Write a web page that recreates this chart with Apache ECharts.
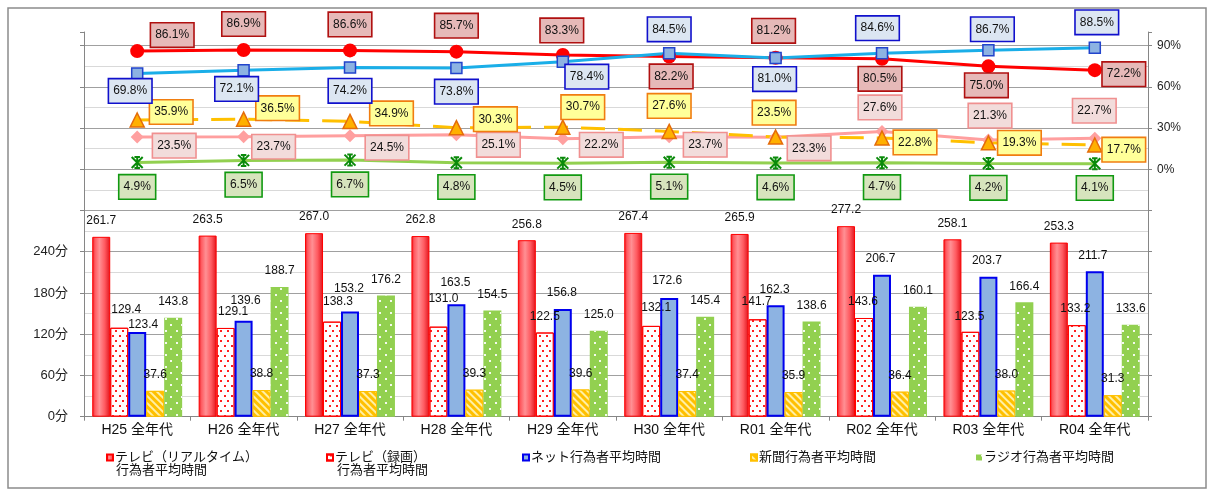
<!DOCTYPE html>
<html><head><meta charset="utf-8">
<script src="https://cdn.jsdelivr.net/npm/echarts@6/dist/echarts.min.js"></script>
<style>html,body{margin:0;padding:0;background:#fff}#c{width:1217px;height:493px}</style>
</head><body><div id="c"></div>
<script>
// ---------- data ----------
const categories = ['H25 全年代','H26 全年代','H27 全年代','H28 全年代','H29 全年代','H30 全年代','R01 全年代','R02 全年代','R03 全年代','R04 全年代'];
const barNames = ['テレビ（リアルタイム）行為者平均時間','テレビ（録画）行為者平均時間','ネット行為者平均時間','新聞行為者平均時間','ラジオ行為者平均時間'];
const legendLine1 = ['テレビ（リアルタイム）','テレビ（録画）','ネット行為者平均時間','新聞行為者平均時間','ラジオ行為者平均時間'];
const legendLine2 = '行為者平均時間';
const tvRealMin = [261.7,263.5,267.0,262.8,256.8,267.4,265.9,277.2,258.1,253.3];
const tvRecMin  = [129.4,129.1,138.3,131.0,122.5,132.1,141.7,143.6,123.5,133.2];
const netMin    = [123.4,139.6,153.2,163.5,156.8,172.6,162.3,206.7,203.7,211.7];
const paperMin  = [37.6,38.8,37.3,39.3,39.6,37.4,35.9,36.4,38.0,31.3];
const radioMin  = [143.8,188.7,176.2,154.5,125.0,145.4,138.6,160.1,166.4,133.6];
const tvRealPct = [86.1,86.9,86.6,85.7,83.3,82.2,81.2,80.5,75.0,72.2];
const netPct    = [69.8,72.1,74.2,73.8,78.4,84.5,81.0,84.6,86.7,88.5];
const paperPct  = [35.9,36.5,34.9,30.3,30.7,27.6,23.5,22.8,19.3,17.7];
const tvRecPct  = [23.5,23.7,24.5,25.1,22.2,23.7,23.3,27.6,21.3,22.7];
const radioPct  = [4.9,6.5,6.7,4.8,4.5,5.1,4.6,4.7,4.2,4.1];
const minTickLabels = [0,60,120,180,240];
const pctTickLabels = [0,30,60,90];

// ---------- layout (label nudges, px) ----------
const recNudge = [[7,-2],[7.5,0],[6,-4],[5,-12],[0,0],[5,-2],[-1,-2],[-1,0],[-1,1],[-1.5,0]];
const netNudge = [[6,8.5],[2,-4],[-1,-7],[-1,-6],[-1,0],[-2,-1.5],[-1,0.5],[-1.5,0.5],[-1.5,0],[-2,0]];
const tvRealLbl = [[35,-16],[0,-26],[0,-26],[0,-26],[-1,-24.5],[2,20],[-2,-27],[-2,20],[-2,19],[29,4]];
const netLbl    = [[-7,17.5],[-7,18.6],[0,23.4],[0,23.7],[24,15],[0,-24],[-1,21],[-4.5,-25],[4,-21],[2,-25.5]];
const paperLbl  = [[34,-8],[34,-11],[41.5,-8],[39,-8.5],[20,-20],[0,-25.5],[-1.5,-24.4],[33,4.4],[31,0],[29,4.7]];
const tvRecLbl  = [[37,8.6],[30,10],[37,12],[42,10],[38.5,6],[36,8],[33.5,11],[-2,-24],[1.6,-24.4],[-0.5,-27.4]];
const radioLbl  = [[0,24.3],[0,24.3],[0,24.3],[0,24.3],[0,24.3],[0,24.3],[0,24.3],[0,24.3],[0,24.3],[0,24.3]];
const legendLeft = [106, 326, 522, 750, 976];

const FONT = "'Liberation Sans','Noto Sans CJK JP',sans-serif";
const MAJOR = '#a0a0a0', MINOR = '#d9d9d9', AXIS = '#868686';

function lineSeries(name, data, offs, color, lineType, symbol, symbolSize, itemStyle, boxFill, boxBorder) {
  return {
    type: 'line', name, xAxisIndex: 0, yAxisIndex: 0,
    data: data.map((v,i)=>({value:v, label:{offset: offs[i]}})),
    symbol, symbolSize, showAllSymbol: true,
    lineStyle: {color, width: 3, type: lineType},
    itemStyle: itemStyle,
    label: {show: true, position: 'inside', formatter: p => p.value.toFixed(1) + '%',
      fontFamily: FONT, fontSize: 12, color: '#111', backgroundColor: boxFill,
      borderColor: boxBorder, borderWidth: 1.6, padding: [5,4,4,4], lineHeight: 14},
    emphasis: {disabled: true}, animation: false
  };
}
function barSeries(name, data, nudge, itemStyle, extra) {
  return Object.assign({
    type: 'bar', name, xAxisIndex: 1, yAxisIndex: 3,
    data: data.map((v,i)=>({value:v, label:{offset: nudge ? nudge[i] : [0,0]}})),
    itemStyle,
    label: {show: true, position: 'top', distance: 10, formatter: p => p.value.toFixed(1),
      fontFamily: FONT, fontSize: 12, color: '#111'},
    emphasis: {disabled: true}, animation: false
  }, extra || {});
}

const pctAxisBase = {type: 'value', gridIndex: 0, min: -30, max: 100};
const minAxisBase = {type: 'value', gridIndex: 1, min: 0, max: 300};

const option = {
  animation: false,
  textStyle: {fontFamily: FONT},
  grid: [
    {left: 84, right: 69, top: 32, bottom: 282.5},
    {left: 84, right: 69, top: 210.5, bottom: 76.3}
  ],
  xAxis: [
    {type: 'category', gridIndex: 0, data: categories, show: false, boundaryGap: true},
    {type: 'category', gridIndex: 1, data: categories, boundaryGap: true,
      axisLine: {lineStyle: {color: AXIS, width: 1}},
      axisTick: {show: true, length: 4, lineStyle: {color: AXIS}},
      axisLabel: {color: '#111', fontSize: 14, margin: 6, fontFamily: FONT}}
  ],
  yAxis: [
    Object.assign({}, pctAxisBase, {position: 'right', interval: 15,
      axisLine: {show: false}, axisTick: {show: false},
      axisLabel: {show: true, margin: 9, fontSize: 12, color: '#222',
        formatter: v => pctTickLabels.indexOf(v) >= 0 ? v + '%' : ''},
      splitLine: {show: true, showMaxLine: false,
        lineStyle: {color: [MAJOR, MINOR], width: 1}}}),
    Object.assign({}, pctAxisBase, {position: 'left', interval: 30,
      axisLine: {show: true, lineStyle: {color: AXIS}}, axisTick: {show: true, length: 4, lineStyle: {color: AXIS}},
      axisLabel: {show: false}, splitLine: {show: false}}),
    Object.assign({}, pctAxisBase, {position: 'right', interval: 30,
      axisLine: {show: true, lineStyle: {color: AXIS}}, axisTick: {show: true, length: 4, lineStyle: {color: AXIS}},
      axisLabel: {show: false}, splitLine: {show: false}}),
    Object.assign({}, minAxisBase, {position: 'left', interval: 60,
      axisLine: {show: true, lineStyle: {color: AXIS}}, axisTick: {show: true, length: 4, lineStyle: {color: AXIS}},
      axisLabel: {margin: 16, fontSize: 13, color: '#222',
        formatter: v => minTickLabels.indexOf(v) >= 0 ? v + '分' : ''},
      splitLine: {show: true, lineStyle: {color: MAJOR, width: 1}},
      minorTick: {show: false, splitNumber: 2},
      minorSplitLine: {show: true, lineStyle: {color: MINOR, width: 1}}}),
    Object.assign({}, minAxisBase, {position: 'right', interval: 60,
      axisLine: {show: true, lineStyle: {color: AXIS}}, axisTick: {show: true, length: 4, lineStyle: {color: AXIS}},
      axisLabel: {show: false}, splitLine: {show: false}})
  ],
  legend: legendLine1.map((t, i) => ({
    data: [barNames[i]], left: legendLeft[i], top: 451, padding: 0,
    itemWidth: 6, itemHeight: 6, icon: 'rect', itemGap: 0, selectedMode: false,
    formatter: () => t,
    textStyle: {fontSize: 13, color: '#111', fontFamily: FONT, padding: [0,0,0,-3]}
  })),
  graphic: [
    {type: 'rect', shape: {x: 8, y: 8, width: 1198, height: 480},
      style: {fill: 'none', stroke: '#8c8c8c', lineWidth: 1.5}, silent: true, z: -1},
    {type: 'text', x: 116, y: 469, style: {text: legendLine2, font: "13px 'Noto Sans CJK JP'", fill: '#111', verticalAlign: 'middle'}},
    {type: 'text', x: 337, y: 469, style: {text: legendLine2, font: "13px 'Noto Sans CJK JP'", fill: '#111', verticalAlign: 'middle'}}
  ],
  series: [
    barSeries(barNames[0], tvRealMin, null, {
      color: {type: 'linear', x: 0, y: 0, x2: 1, y2: 0, colorStops: [
        {offset: 0, color: '#e8141c'}, {offset: 0.15, color: '#ff5a60'}, {offset: 0.4, color: '#ff9094'},
        {offset: 0.7, color: '#ff5a60'}, {offset: 1, color: '#e0121a'}]},
      borderColor: '#ff0000', borderWidth: 1}, {barGap: '0%', barCategoryGap: '15.5%'}),
    barSeries(barNames[1], tvRecMin, recNudge, {
      color: '#ffffff', borderColor: '#ff0000', borderWidth: 1,
      decal: {symbol: 'rect', symbolSize: 1, color: '#ff2020',
        dashArrayX: [[1.3, 4.7], [0, 3, 1.3, 1.7]], dashArrayY: [1.3, 2.7]}}),
    barSeries(barNames[2], netMin, netNudge, {
      color: '#8db3e2', borderColor: '#0000ee', borderWidth: 2}),
    barSeries(barNames[3], paperMin, null, {
      color: '#ffc000', borderColor: '#ffc000', borderWidth: 1,
      decal: {symbol: 'rect', symbolSize: 1, color: 'rgba(255,255,220,0.75)',
        dashArrayX: [1, 0], dashArrayY: [2, 2.2], rotation: Math.PI / 4}}),
    barSeries(barNames[4], radioMin, null, {
      color: '#92d050',
      decal: {symbol: 'rect', symbolSize: 1, color: 'rgba(255,255,255,0.9)',
        dashArrayX: [[1.5, 8.5], [0, 5, 1.5, 3.5]], dashArrayY: [1.5, 3.5]}}),

    lineSeries('ラジオ行為率', radioPct, radioLbl, '#92d050', 'solid',
      'path://M0,0L10,10M10,0L0,10M5,0L5,10M2.5,0L7.5,0M2.5,10L7.5,10', 11,
      {color: 'rgba(0,0,0,0)', borderColor: '#0a8a0a', borderWidth: 2}, '#d7e4bd', '#119911'),
    lineSeries('テレビ（録画）行為率', tvRecPct, tvRecLbl, '#ff9f9f', 'solid', 'diamond', 13,
      {color: '#ffa0a0'}, '#f2dcdb', '#f09090'),
    lineSeries('新聞行為率', paperPct, paperLbl, '#ffc000', [24, 13], 'triangle', 14,
      {color: '#ffb000', borderColor: '#e46c0a', borderWidth: 1.5}, '#ffff99', '#f07d10'),
    lineSeries('テレビ（リアルタイム）行為率', tvRealPct, tvRealLbl, '#ff0000', 'solid', 'circle', 14,
      {color: '#ff0000'}, '#e6b9b8', '#b01010'),
    lineSeries('ネット行為率', netPct, netLbl, '#1aaee8', 'solid', 'rect', 11,
      {color: '#8db3e2', borderColor: '#2244cc', borderWidth: 1.5}, '#dce6f2', '#1010cc')
  ]
};
const chart = echarts.init(document.getElementById('c'), null, {renderer: 'canvas'});
chart.setOption(option);
</script></body></html>
